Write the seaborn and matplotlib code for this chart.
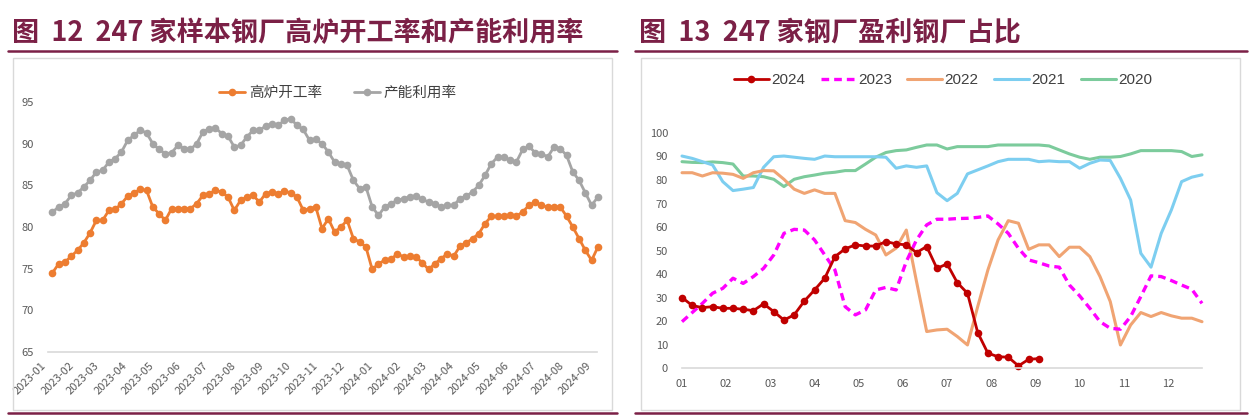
import matplotlib
matplotlib.use("Agg")
import matplotlib.pyplot as plt
import matplotlib.dates as mdates
from matplotlib.patches import Rectangle
from matplotlib.lines import Line2D
from matplotlib import font_manager
import seaborn as sns
import pandas as pd
import numpy as np

# ── Global style ──────────────────────────────────────────────────────────
sns.set_theme(style="white")
plt.rcParams["font.family"] = ["Noto Sans CJK SC", "DejaVu Sans"]

MAROON = "#7B2046"
TICK_COLOR = "#595959"
FRAME_COLOR = "#D9D9D9"

_names = {f.name for f in font_manager.fontManager.ttflist}
NARROW = "Liberation Sans Narrow" if "Liberation Sans Narrow" in _names else "Liberation Sans"

# ── Fig 12 data: weekly, 2023-01-06 .. 2024-09-06 ─────────────────────────
week_dates = pd.date_range("2023-01-06", periods=88, freq="7D")

blast_furnace_rate = [
    74.5, 75.6, 75.8, 76.5, 77.2, 78.1, 79.3, 80.8, 80.8, 82.0,
    82.1, 82.8, 83.7, 84.1, 84.5, 84.4, 82.4, 81.6, 80.8, 82.2,
    82.2, 82.2, 82.2, 82.8, 83.8, 84.0, 84.4, 84.2, 83.6, 82.0,
    83.2, 83.6, 83.8, 83.0, 84.0, 84.2, 84.0, 84.3, 84.1, 83.6,
    82.0, 82.2, 82.4, 79.8, 81.0, 79.4, 80.0, 80.8, 78.6, 78.2,
    77.6, 74.9, 75.6, 76.0, 76.1, 76.8, 76.4, 76.5, 76.4, 75.7,
    74.9, 75.6, 76.2, 76.8, 76.5, 77.7, 78.1, 78.6, 79.2, 80.4,
    81.3, 81.3, 81.3, 81.4, 81.3, 81.8, 82.6, 83.0, 82.6, 82.4,
    82.4, 82.4, 81.3, 80.0, 78.6, 77.2, 76.0, 77.6,
]
capacity_util = [
    81.8, 82.4, 82.8, 83.8, 84.1, 84.8, 85.6, 86.6, 86.8, 87.8,
    88.2, 89.0, 90.4, 91.0, 91.6, 91.3, 90.0, 89.3, 88.8, 88.9,
    89.8, 89.4, 89.3, 90.0, 91.4, 91.8, 91.9, 91.2, 90.9, 89.6,
    89.8, 90.8, 91.6, 91.6, 92.1, 92.4, 92.2, 92.8, 93.0, 92.2,
    91.7, 90.4, 90.5, 90.0, 89.0, 87.8, 87.6, 87.4, 85.6, 84.6,
    84.8, 82.4, 81.4, 82.4, 82.8, 83.2, 83.4, 83.6, 83.7, 83.3,
    83.0, 82.8, 82.4, 82.6, 82.6, 83.4, 83.7, 84.2, 85.0, 86.2,
    87.6, 88.4, 88.4, 88.0, 87.8, 89.3, 89.7, 88.9, 88.8, 88.4,
    89.6, 89.4, 88.6, 86.6, 85.6, 84.1, 82.6, 83.6,
]

# ── Fig 13 data: share of profitable mills (%), weekly ────────────────────
month_labels = ["01", "02", "03", "04", "05", "06",
                "07", "08", "09", "10", "11", "12"]

profit_2024 = [
    30.0, 26.6, 25.7, 26.1, 25.4, 25.4, 25.0, 24.4, 27.3, 24.0,
    20.4, 22.6, 28.5, 33.2, 38.2, 47.4, 50.7, 52.4, 51.9, 51.9,
    53.8, 52.8, 52.4, 49.1, 51.7, 42.4, 44.3, 36.3, 31.8, 15.1,
    6.3, 4.8, 4.6, 0.9, 3.7, 4.0,
]
profit_2023 = [
    19.7, 23.6, 27.5, 31.8, 33.9, 38.2, 36.0, 38.9, 42.4, 48.1,
    57.3, 59.0, 58.7, 54.5, 48.1, 41.7, 26.1, 22.6, 24.7, 33.2,
    34.3, 33.2, 45.3, 54.5, 60.9, 63.3, 63.3, 63.6, 63.7, 64.1,
    64.7, 61.3, 57.3, 50.9, 46.0, 44.8, 43.4, 42.9, 35.3, 30.7,
    25.4, 19.7, 16.9, 16.5, 21.9, 30.4, 39.2, 38.9, 37.2, 35.3,
    33.5, 27.5,
]
profit_2022 = [
    83.1, 83.1, 81.7, 83.1, 82.9, 82.4, 80.7, 83.1, 84.0, 83.9,
    80.3, 76.1, 74.3, 75.8, 74.3, 74.3, 62.7, 61.9, 59.0, 56.6,
    48.1, 51.0, 58.7, 36.8, 15.5, 16.2, 16.5, 13.4, 9.8, 26.1,
    41.7, 54.5, 62.7, 61.6, 50.5, 52.4, 52.4, 47.4, 51.4, 51.4,
    47.4, 38.9, 28.3, 9.8, 18.3, 23.6, 21.9, 23.6, 22.2, 21.2,
    21.2, 19.7,
]
profit_2021 = [
    90.2, 89.2, 87.8, 86.4, 79.3, 75.5, 76.1, 76.8, 85.4, 89.9,
    90.2, 89.7, 89.2, 88.8, 90.2, 89.9, 89.9, 89.9, 89.9, 89.9,
    89.7, 85.0, 86.0, 85.4, 86.0, 74.6, 71.2, 74.3, 82.6, 84.3,
    86.0, 87.8, 88.8, 88.8, 88.8, 87.8, 88.1, 87.8, 87.8, 85.0,
    87.1, 88.5, 88.3, 80.7, 71.5, 48.8, 42.9, 57.3, 67.3, 79.3,
    81.2, 82.2,
]
profit_2020 = [
    87.8, 87.5, 87.4, 87.7, 87.4, 86.8, 81.7, 81.7, 81.4, 80.3,
    77.2, 80.3, 81.4, 82.1, 82.9, 83.3, 84.0, 84.0, 86.8, 89.7,
    91.7, 92.5, 92.8, 93.9, 94.9, 94.9, 93.2, 94.2, 94.2, 94.2,
    94.2, 94.9, 94.9, 94.9, 94.9, 94.9, 94.5, 92.8, 91.1, 89.7,
    88.8, 89.7, 89.7, 90.0, 91.1, 92.5, 92.5, 92.5, 92.5, 92.1,
    90.0, 90.7,
]

series_13 = [
    # label, values, color, linestyle, marker, linewidth
    ("2020", profit_2020, "#7CCB9C", "-", None, 2.2),
    ("2021", profit_2021, "#7DCEF0", "-", None, 2.2),
    ("2022", profit_2022, "#F0A473", "-", None, 2.2),
    ("2023", profit_2023, "#FF00FF", (0, (2.3, 1.5)), None, 2.4),
    ("2024", profit_2024, "#C00000", "-", "o", 2.0),
]

fig = plt.figure(figsize=(12.5, 4.15), dpi=100)


def _decor(x0, x1, bx0, bx1, title):
    """Maroon title + rules and the light frame of one panel (pixel coords)."""
    W, H = 1250.0, 415.0
    fig.text(x0 / W + 0.003, 1 - 33 / H, title, fontsize=19.5, fontweight="bold",
             color=MAROON, va="center", ha="left")
    fig.add_artist(Line2D([x0 / W, x1 / W], [1 - 51 / H] * 2,
                          color=MAROON, lw=1.8, transform=fig.transFigure))
    fig.add_artist(Line2D([x0 / W, x1 / W], [1 - 413 / H] * 2,
                          color=MAROON, lw=1.8, transform=fig.transFigure))
    fig.add_artist(Rectangle((bx0 / W, 1 - 410 / H), (bx1 - bx0) / W, 352 / H,
                             fill=False, ec=FRAME_COLOR, lw=1.0,
                             transform=fig.transFigure))


def _clean_axis(ax):
    for s in ("top", "right", "left"):
        ax.spines[s].set_visible(False)
    ax.spines["bottom"].set_color(FRAME_COLOR)
    ax.spines["bottom"].set_linewidth(1.2)
    ax.grid(False)
    ax.set_facecolor("none")
    ax.tick_params(axis="both", length=0, labelsize=8, colors=TICK_COLOR)
    ax.set_xlabel("")
    ax.set_ylabel("")


# ── Left panel: 图 12 ─────────────────────────────────────────────────────
_decor(8, 617, 13, 612, "图  12  247 家样本钢厂高炉开工率和产能利用率")
ax1 = fig.add_axes([48 / 1250, 63 / 415, 549 / 1250, 250 / 415])

df12 = pd.DataFrame({"date": week_dates,
                     "高炉开工率": blast_furnace_rate,
                     "产能利用率": capacity_util})
for col, color in [("产能利用率", "#A5A5A5"), ("高炉开工率", "#ED7D31")]:
    sns.lineplot(data=df12, x="date", y=col, ax=ax1, color=color,
                 linewidth=2.0, marker="o", markersize=5.5,
                 markeredgecolor=color, markeredgewidth=0,
                 label=col, clip_on=False)

ax1.set_ylim(65, 95)
ax1.set_yticks(range(65, 96, 5))
ax1.set_xlim(pd.Timestamp("2023-01-01"), pd.Timestamp("2024-09-05"))
ax1.xaxis.set_major_locator(mdates.MonthLocator())
ax1.xaxis.set_major_formatter(mdates.DateFormatter("%Y-%m"))
_clean_axis(ax1)
ax1.tick_params(axis="y", pad=10)
ax1.tick_params(axis="x", pad=6)
for lab in ax1.get_xticklabels():
    lab.set_rotation(45)
    lab.set_ha("right")
    lab.set_va("top")

h, l = ax1.get_legend_handles_labels()
order = [l.index("高炉开工率"), l.index("产能利用率")]
ax1.legend([h[i] for i in order], [l[i] for i in order], loc="center",
           bbox_to_anchor=(338 / 1250, 1 - 93 / 415),
           bbox_transform=fig.transFigure, ncol=2, frameon=False,
           fontsize=10.5, handlelength=1.8, handletextpad=0.25,
           columnspacing=2.2, labelcolor="#404040")

# ── Right panel: 图 13 ────────────────────────────────────────────────────
_decor(635, 1247, 641, 1240, "图  13  247 家钢厂盈利钢厂占比")
ax2 = fig.add_axes([682 / 1250, 47 / 415, 520 / 1250, 235 / 415])

for label, vals, color, ls, mk, lw in series_13:
    weeks = np.arange(len(vals))
    sns.lineplot(x=weeks, y=vals, ax=ax2, color=color, linestyle=ls,
                 linewidth=lw, marker=mk, markersize=5.5,
                 markeredgecolor=color, markeredgewidth=0,
                 label=label, clip_on=False)

ax2.set_ylim(0, 100)
ax2.set_yticks(range(0, 101, 10))
ax2.set_xlim(0, 51)
ax2.set_xticks(np.arange(12) * 52 / 12)
ax2.set_xticklabels(month_labels)
_clean_axis(ax2)
ax2.tick_params(axis="y", pad=10)
ax2.tick_params(axis="x", pad=8)

h, l = ax2.get_legend_handles_labels()
want = ["2024", "2023", "2022", "2021", "2020"]
leg = ax2.legend([h[l.index(w)] for w in want], want, loc="center",
                 bbox_to_anchor=(943 / 1250, 1 - 80 / 415),
                 bbox_transform=fig.transFigure, ncol=5, frameon=False,
                 fontsize=11, handlelength=2.3, handletextpad=0.15,
                 columnspacing=1.0, labelcolor="#404040")
for t in leg.get_texts():
    t.set_family([NARROW, "DejaVu Sans"])

fig.savefig("out.png", dpi=100)
plt.close(fig)
